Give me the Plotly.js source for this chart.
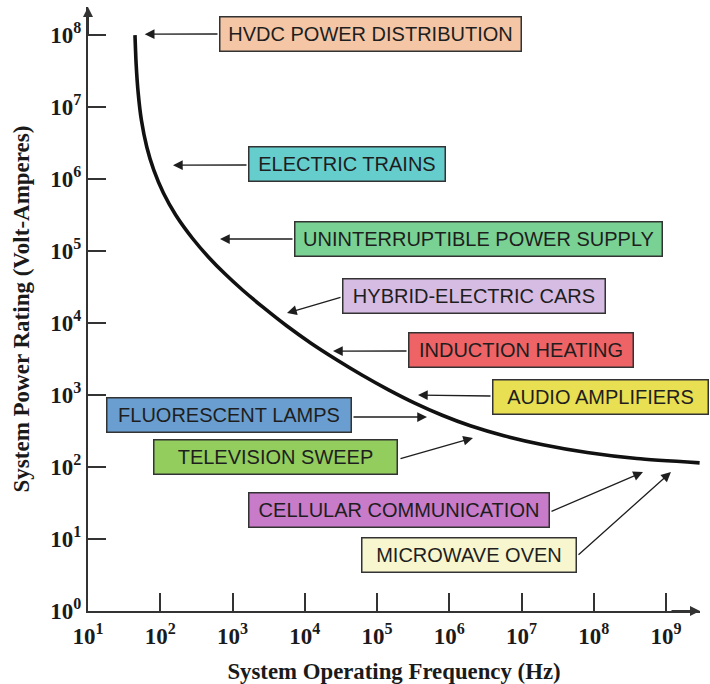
<!DOCTYPE html>
<html>
<head>
<meta charset="utf-8">
<script src="https://cdn.plot.ly/plotly-3.0.1.min.js"></script>
<style>html,body{margin:0;padding:0;background:#fff;}#chart{width:710px;height:684px;}</style>
</head>
<body>
<div id="chart"></div>
<script>
// ---- data ----
const freqHz  = [44.7, 46.3, 49.5, 54.8, 65.1, 81.2, 110.6, 163.6, 284, 467, 798, 1402, 2643, 5608,
                 12200, 27250, 61800, 1.424e5, 3.336e5, 7.99e5, 1.956e6, 5.71e6, 1.978e7, 8.12e7,
                 3.94e8, 2.92e9];
const powerVA = [1.0e8, 4.09e7, 1.57e7, 6.61e6, 2.79e6, 1.34e6, 6.40e5, 3.17e5, 1.47e5, 8.22e4,
                 4.75e4, 2.83e4, 1.66e4, 9160, 5250, 3120, 1900, 1190, 772, 523, 374, 272, 204,
                 159, 131, 114];

const appNames = ["HVDC POWER DISTRIBUTION", "ELECTRIC TRAINS", "UNINTERRUPTIBLE POWER SUPPLY",
  "HYBRID-ELECTRIC CARS", "INDUCTION HEATING", "AUDIO AMPLIFIERS", "FLUORESCENT LAMPS",
  "TELEVISION SWEEP", "CELLULAR COMMUNICATION", "MICROWAVE OVEN"];
const tipFreqHz  = [61, 150, 671, 5680, 24600, 3.69e5, 4.92e5, 2.13e6, 4.8e8, 1.17e9];
const tipPowerVA = [1.03e8, 1.56e6, 1.47e5, 1.38e4, 4080, 1000, 495, 253, 85, 85];

const xTickExps = [1, 2, 3, 4, 5, 6, 7, 8, 9];
const yTickExps = [0, 1, 2, 3, 4, 5, 6, 7, 8];
const xTickLabels = xTickExps.map(e => "10<sup>" + e + "</sup>");
const yTickLabels = yTickExps.map(e => "10<sup>" + e + "</sup>");

// ---- layout / style ----
const W = 710, H = 684;
const M = {l: 88, r: 10, t: 7, b: 73};
const XR = [1, 9.4706], YR = [0, 8.39];
const boxColors = ["#F5C6A5", "#66CDCD", "#79D294", "#D6BCE3", "#EE6366", "#E9DF52",
  "#6A9ED0", "#92CD5E", "#C77BC8", "#F7F6CF"];
// box rectangles in page pixels [x0, y0, x1, y1]
const boxRects = [[219,16,522,52],[248,146,446,182],[294,221,663,257],[342,278,606,314],
  [408,332,634,368],[492,379,709,415],[106,397,352,433],[153,439,398,475],
  [248,492,550,528],[361,537,577,573]];
// arrow tail points (box edge) in page pixels
const tails = [[219,34],[248,165],[294,239],[342,297],[408,351],[492,396],
  [352,417],[399,459],[550,512],[577,556]];

const pw = W - M.l - M.r, ph = H - M.t - M.b;
const pxToPaperX = px => (px - M.l) / pw;
const pxToPaperY = py => 1 - (py - M.t) / ph;
const pxToLogX = px => XR[0] + (px - M.l) / pw * (XR[1] - XR[0]);
const pxToLogY = py => YR[0] + (1 - (py - M.t) / ph) * (YR[1] - YR[0]);

const serif = "Liberation Serif, Times New Roman, serif";
const sans = "Liberation Sans, Arial, sans-serif";
const axisCol = "#333333";

const annotations = [];
appNames.forEach((name, i) => {
  const r = boxRects[i];
  annotations.push({
    xref: "paper", yref: "paper",
    x: pxToPaperX((r[0] + r[2]) / 2), y: pxToPaperY((r[1] + r[3]) / 2),
    xanchor: "center", yanchor: "middle",
    text: name, showarrow: false,
    width: (r[2] - r[0]) - 3, height: (r[3] - r[1]) - 3,
    bgcolor: boxColors[i], bordercolor: "#333333", borderwidth: 1.5, borderpad: 0,
    font: {family: sans, size: 20, color: "#1e1e1e"}
  });
  annotations.push({
    xref: "x", yref: "y", axref: "x", ayref: "y",
    x: Math.log10(tipFreqHz[i]), y: Math.log10(tipPowerVA[i]),
    ax: pxToLogX(tails[i][0]), ay: pxToLogY(tails[i][1]),
    text: "", showarrow: true, arrowhead: 2, arrowsize: 1.5, arrowwidth: 1.3,
    arrowcolor: "#1e1e1e", standoff: 0, startstandoff: 0
  });
});
// axis arrows
annotations.push({xref: "paper", yref: "paper", x: 0, y: 1, ax: 0, ay: 30, text: "",
  showarrow: true, arrowhead: 2, arrowsize: 1, arrowwidth: 2, arrowcolor: axisCol});
annotations.push({xref: "paper", yref: "paper", x: 1, y: 0, ax: -30, ay: 0, text: "",
  showarrow: true, arrowhead: 2, arrowsize: 1, arrowwidth: 2, arrowcolor: axisCol});

const axisCommon = {
  type: "log", showgrid: false, zeroline: false,
  showline: true, linecolor: axisCol, linewidth: 2,
  ticks: "inside", ticklen: 18, tickwidth: 2, tickcolor: axisCol,
  tickmode: "array",
  tickfont: {family: serif, size: 23, color: "#1a1a1a", weight: "bold"}
};

const layout = {
  width: W, height: H,
  margin: {l: M.l, r: M.r, t: M.t, b: M.b, pad: 0},
  paper_bgcolor: "#ffffff", plot_bgcolor: "#ffffff",
  showlegend: false,
  xaxis: Object.assign({}, axisCommon, {
    range: XR, ticklabelstandoff: 3,
    tickvals: xTickExps.map(e => Math.pow(10, e)), ticktext: xTickLabels,
    title: {text: "System Operating Frequency (Hz)", standoff: 15,
      font: {family: serif, size: 22.8, color: "#1a1a1a", weight: "bold"}}
  }),
  yaxis: Object.assign({}, axisCommon, {
    range: YR,
    tickvals: yTickExps.map(e => Math.pow(10, e)), ticktext: yTickLabels,
    title: {text: "System Power Rating (Volt-Amperes)", standoff: 14.5,
      font: {family: serif, size: 23, color: "#1a1a1a", weight: "bold"}}
  }),
  annotations: annotations
};

const traces = [{
  x: freqHz, y: powerVA, type: "scatter", mode: "lines",
  line: {color: "#111111", width: 3.6, shape: "spline", smoothing: 0.6},
  hoverinfo: "skip", cliponaxis: false
}];

Plotly.newPlot("chart", traces, layout, {staticPlot: true, displayModeBar: false});
</script>
</body>
</html>
